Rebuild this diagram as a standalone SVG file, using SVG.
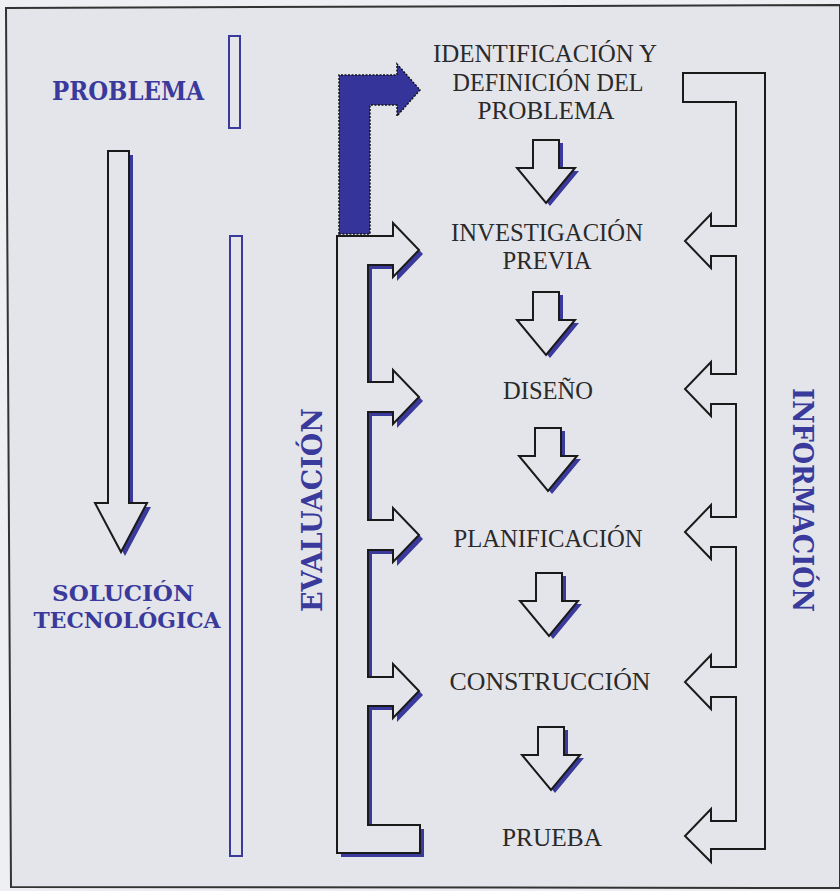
<svg xmlns="http://www.w3.org/2000/svg" width="840" height="891" viewBox="0 0 840 891">
<defs>
<style>
.bg{fill:#e4e5ea}
.lbl{font-family:"DejaVu Serif","Liberation Serif",serif;font-weight:bold;fill:#3a3a9c}
.step{font-family:"Liberation Serif",serif;font-size:25px;fill:#2a2a2a;text-anchor:middle}
.out{fill:#e4e5ea;stroke:#1a1a1a;stroke-width:2;stroke-linejoin:miter}
.sh{fill:#3a3a9c}
.bar{fill:none;stroke:#3a3a9c;stroke-width:2}
.info{fill:none;stroke:#1a1a1a;stroke-width:2}
</style>
<path id="darr" d="M-13,0 H13 V28 H29 L0,63 L-29,28 H-13 Z"/>
</defs>
<rect x="0" y="0" width="840" height="891" fill="#eeeff2"/>
<path d="M6,8 L840,5 L840,888 L11,887 Z" class="bg" stroke="#333" stroke-width="2"/>

<g id="problema">
<text class="lbl" x="128" y="100" font-size="26" text-anchor="middle" textLength="152" lengthAdjust="spacingAndGlyphs">PROBLEMA</text>
</g>
<g id="solucion">
<text class="lbl" x="123" y="601" font-size="23" text-anchor="middle" textLength="142" lengthAdjust="spacingAndGlyphs">SOLUCIÓN</text>
<text class="lbl" x="127" y="628" font-size="23" text-anchor="middle" textLength="187" lengthAdjust="spacingAndGlyphs">TECNOLÓGICA</text>
</g>
<g id="bars">
<rect class="bar" x="229" y="36" width="11" height="92"/>
<rect class="bar" x="230" y="236" width="12" height="620"/>
</g>
<g id="evaluacion">
<text class="lbl" transform="translate(322,510) rotate(-90)" font-size="28" text-anchor="middle" textLength="204" lengthAdjust="spacingAndGlyphs">EVALUACIÓN</text>
</g>
<g id="informacion">
<text class="lbl" transform="translate(793,500) rotate(90)" font-size="28" text-anchor="middle" textLength="224" lengthAdjust="spacingAndGlyphs">INFORMACIÓN</text>
</g>

<g id="steps">
<g id="identificacion">
<text class="step" x="545" y="62" textLength="224" lengthAdjust="spacingAndGlyphs">IDENTIFICACIÓN Y</text>
<text class="step" x="548" y="91" textLength="191" lengthAdjust="spacingAndGlyphs">DEFINICIÓN DEL</text>
<text class="step" x="546" y="119" textLength="137" lengthAdjust="spacingAndGlyphs">PROBLEMA</text>
</g>
<g id="investigacion">
<text class="step" x="547" y="241" textLength="192" lengthAdjust="spacingAndGlyphs">INVESTIGACIÓN</text>
<text class="step" x="547" y="269" textLength="89" lengthAdjust="spacingAndGlyphs">PREVIA</text>
</g>
<g id="diseno"><text class="step" x="548" y="399" textLength="90" lengthAdjust="spacingAndGlyphs">DISEÑO</text></g>
<g id="planificacion"><text class="step" x="548" y="547" textLength="189" lengthAdjust="spacingAndGlyphs">PLANIFICACIÓN</text></g>
<g id="construccion"><text class="step" x="550" y="690" textLength="201" lengthAdjust="spacingAndGlyphs">CONSTRUCCIÓN</text></g>
<g id="prueba"><text class="step" x="552" y="846" textLength="100" lengthAdjust="spacingAndGlyphs">PRUEBA</text></g>
</g>

<g id="connectors">
<path class="sh" transform="translate(4,4)" d="M108,151 H129 V503 H147 L121,552 L95,503 H108 Z"/>
<path class="out" d="M108,151 H129 V503 H147 L121,552 L95,503 H108 Z"/>

<g>
<use href="#darr" class="sh" transform="translate(550,143)"/>
<use href="#darr" class="out" transform="translate(546,140)"/>
<use href="#darr" class="sh" transform="translate(550,295)"/>
<use href="#darr" class="out" transform="translate(546,292)"/>
<use href="#darr" class="sh" transform="translate(552,431)"/>
<use href="#darr" class="out" transform="translate(548,428)"/>
<use href="#darr" class="sh" transform="translate(553,576)"/>
<use href="#darr" class="out" transform="translate(549,573)"/>
<use href="#darr" class="sh" transform="translate(555,730)"/>
<use href="#darr" class="out" transform="translate(551,727)"/>
</g>

<path class="sh" transform="translate(4,4)" d="M337,236 H393 V223 L419,250 L393,277 V265 H368 V382 H393 V370 L419,397 L393,424 V412 H368 V520 H393 V508 L419,535 L393,562 V550 H368 V677 H393 V664 L419,691 L393,718 V706 H368 V825 H420 V853 H337 Z"/>
<path class="out" d="M337,236 H393 V223 L419,250 L393,277 V265 H368 V382 H393 V370 L419,397 L393,424 V412 H368 V520 H393 V508 L419,535 L393,562 V550 H368 V677 H393 V664 L419,691 L393,718 V706 H368 V825 H420 V853 H337 Z"/>

<path d="M339,234 V75 H397 V64 L420,90 L397,116 V105 H370 V234 Z" fill="#34349a" stroke="#111" stroke-width="1.5" stroke-dasharray="2,1.5"/>

<path class="info" d="M683,73 H765 V849 H711 V862 L685,836 L711,809 V821 H736 V697 H711 V709 L685,682 L711,655 V667 H736 V547 H711 V559 L685,532 L711,505 V517 H736 V404 H711 V416 L685,389 L711,362 V374 H736 V256 H711 V268 L685,241 L711,214 V226 H736 V102 H683 Z"/>
</g>
</svg>
